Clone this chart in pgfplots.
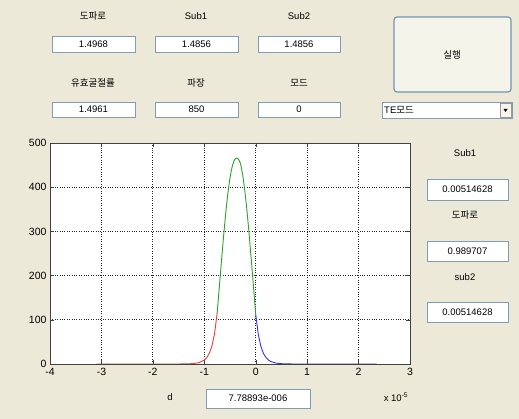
\documentclass[border=0pt]{standalone}
\usepackage{pgfplots}
\pgfplotsset{compat=1.18}
\usepackage{fontspec}
\setmainfont{Liberation Sans}
\newfontfamily\kr{Noto Sans CJK KR}
\definecolor{bg}{RGB}{236,233,216}
\definecolor{bx}{RGB}{127,157,185}
\definecolor{btn}{RGB}{0,60,116}
\definecolor{cred}{RGB}{240,60,60}
\definecolor{cgreen}{RGB}{40,165,40}
\definecolor{cblue}{RGB}{50,50,235}
\newcommand\tb[5]{\draw[bx,fill=white,line width=0.8pt] (#1,419-#2) rectangle (#3,419-#4);
  \node[font=\fontsize{9.5}{11}\selectfont] at ({(#1+#3)/2},{419-(#2+#4)/2}) {#5};}
\newcommand\lb[3]{\node[font=\fontsize{9.5}{11}\selectfont] at (#1,419-#2) {#3};}
\begin{document}
\begin{tikzpicture}[x=1pt,y=1pt]
\fill[bg] (0,0) rectangle (519,419);
% top rows
\lb{93}{16}{\kr 도파로}
\lb{196}{16}{Sub1}
\lb{299}{16}{Sub2}
\tb{52}{36}{135}{52}{1.4968}
\tb{155}{36}{238}{52}{1.4856}
\tb{258}{36}{340}{52}{1.4856}
\lb{93}{83}{\kr 유효굴절률}
\lb{196}{83}{\kr 파장}
\lb{299}{83}{\kr 모드}
\tb{52}{102}{135}{117}{1.4961}
\tb{155}{102}{238}{117}{850}
\tb{258}{102}{340}{117}{0}
% button
\draw[btn!55!white,fill=bg!50!white,rounded corners=3pt,line width=1.2pt] (394,419-17) rectangle (511,419-92);
\node[font=\fontsize{9.5}{11}\selectfont] at (452,419-55) {\kr 실행};
% dropdown
\draw[bx,fill=white,line width=0.8pt] (382,419-102) rectangle (512,419-118);
\node[anchor=west,font=\fontsize{9.5}{11}\selectfont,inner sep=0pt] at (384,419-110) {TE\kr 모드};
\fill[bg!50!white] (500,419-103) rectangle (511,419-117);
\draw[black!40] (500,419-103) rectangle (511,419-117);
\fill[black] (503.5,419-109) -- (507.5,419-109) -- (505.5,419-112) -- cycle;
% right panel
\lb{465}{153}{Sub1}
\tb{427}{179}{508}{200}{0.00514628}
\lb{465}{215}{\kr 도파로}
\tb{427}{241}{508}{261}{0.989707}
\lb{465}{277}{sub2}
\tb{427}{302}{508}{322}{0.00514628}
% bottom
\lb{170}{397}{d}
\tb{206}{389}{310}{408}{7.78893e-006}
\node[font=\fontsize{9.5}{11}\selectfont] at (396,419-397) {x 10\textsuperscript{-5}};
\begin{axis}[at={(50pt,55pt)}, anchor=south west, scale only axis,
  width=360pt, height=221pt,
  xmin=-4, xmax=3, ymin=0, ymax=500,
  xtick={-4,-3,-2,-1,0,1,2,3}, ytick={0,100,200,300,400,500},
  grid=major, major grid style={black!85, dotted, line width=0.8pt},
  tick align=inside, major tick length=4pt,
  axis background/.style={fill=white},
  axis line style={black!75, line width=0.6pt},
  tick style={black!75},
  tick label style={font=\fontsize{10.5}{12}\selectfont},
  /pgf/number format/assume math mode=true,
  xticklabel style={yshift=-1pt},
  ]
\addplot[cred, line width=0.9pt] coordinates {
(-3.1,0) (-1.5,0.05) (-1.3,0.4) (-1.2,1.2) (-1.1,3.2) (-1.0,8.9) (-0.95,14.6)
(-0.9,24.8) (-0.85,41) (-0.8,69) (-0.75,115)};
\addplot[cgreen, line width=0.9pt, smooth] coordinates {
(-0.75,115) (-0.70,185) (-0.65,255) (-0.60,320) (-0.55,378) (-0.50,421)
(-0.45,450) (-0.40,464) (-0.37,466) (-0.35,465) (-0.30,455) (-0.25,425)
(-0.20,380) (-0.15,322) (-0.10,255) (-0.05,185) (0.00,112)};
\addplot[cblue, line width=0.9pt] coordinates {
(0,112) (0.05,67) (0.1,40) (0.15,24) (0.2,14.5) (0.25,8.7) (0.3,5.2)
(0.4,1.9) (0.5,0.7) (0.7,0.1) (1.0,0) (2.35,0)};
\end{axis}
\end{tikzpicture}
\end{document}
